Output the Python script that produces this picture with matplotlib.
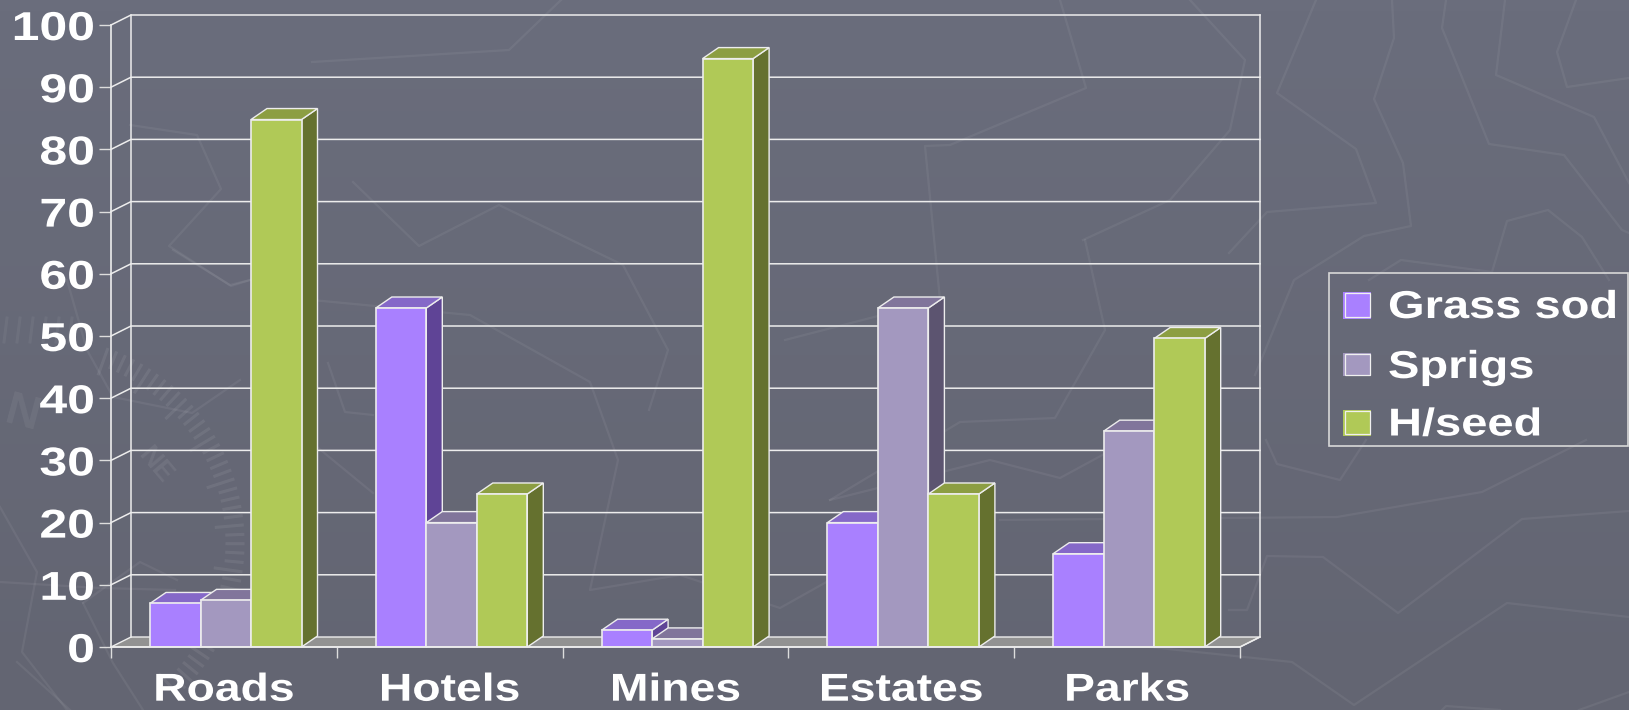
import numpy as np
import matplotlib
matplotlib.use('Agg')
import matplotlib.pyplot as plt
import matplotlib.patheffects as pe
from matplotlib.patches import Polygon, Rectangle
from matplotlib.transforms import Affine2D

# data
categories = ['Roads', 'Hotels', 'Mines', 'Estates', 'Parks']
series_names = ['Grass sod', 'Sprigs', 'H/seed']
grass_sod = [7, 54.5, 2.7, 20, 15]
sprigs = [7.5, 20, 1.3, 54.5, 34.7]
h_seed = [84.8, 24.6, 94.6, 24.6, 49.6]
yticks = list(range(0, 101, 10))

# front, top and side colours per series
front_cols = ['#A980FF', '#A398BF', '#B0C957']
top_cols = ['#8568C8', '#81759B', '#8C9E42']
side_cols = ['#5F4496', '#5C5470', '#65712F']

W, H = 1629, 710
plt.rcParams['font.family'] = ['Liberation Sans', 'DejaVu Sans']
plt.rcParams['font.weight'] = 'bold'
LINE = '#EDEDED'


class WideText(pe.AbstractPathEffect):
    # widen the glyphs around the anchor of the text
    def __init__(self, text, sx=1.19):
        super().__init__()
        self.text = text
        self.sx = sx

    def draw_path(self, renderer, gc, tpath, affine, rgbFace=None):
        px = self.text.get_transform().transform(self.text.get_position())[0]
        wide = affine + Affine2D().translate(-px, 0).scale(self.sx, 1).translate(px, 0)
        renderer.draw_path(gc, tpath, wide, rgbFace)


def widen(t, sx=1.19):
    t.set_path_effects([WideText(t, sx)])
    return t


fig = plt.figure(figsize=(W / 100, H / 100), dpi=100)

# background with faint line work, in pixel coordinates
bg = fig.add_axes([0, 0, 1, 1], zorder=0)
bg_cmap = matplotlib.colors.LinearSegmentedColormap.from_list('b', ['#6A6D7C', '#636572'])
bg.imshow(np.linspace(0, 1, 64).reshape(-1, 1), cmap=bg_cmap, extent=[0, W, H, 0], aspect='auto')
faint = [
    [(312, 62), (509, 50), (561, 0)],
    [(130, 125), (197, 135), (221, 189), (169, 246), (231, 286), (250, 280)],
    [(353, 182), (419, 246), (499, 205), (623, 265), (668, 350), (649, 410)],
    [(312, 300), (470, 315), (590, 382), (618, 460), (590, 590), (680, 575), (780, 608), (830, 580)],
    [(1060, 0), (1086, 88), (950, 145), (925, 146), (940, 300), (785, 340)],
    [(1083, 240), (1170, 200), (1230, 130), (1245, 60), (1190, 0)],
    [(830, 500), (960, 422), (1055, 418), (1105, 330), (1085, 240)],
    [(830, 500), (990, 460), (1060, 478), (1130, 440)],
    [(1000, 520), (1337, 517), (1482, 492), (1586, 440)],
    # right of the plot
    [(1316, 0), (1277, 93), (1356, 149), (1376, 203), (1267, 212), (1229, 253)],
    [(1392, 0), (1394, 38), (1374, 99), (1403, 163), (1411, 226), (1364, 236), (1294, 280), (1255, 375)],
    [(1446, 0), (1442, 28), (1489, 144), (1564, 155), (1622, 230), (1629, 233)],
    [(1505, 0), (1496, 75), (1594, 117), (1629, 183)],
    [(1576, 0), (1557, 52), (1567, 87), (1629, 78)],
    [(1369, 280), (1401, 260), (1492, 272), (1507, 221), (1548, 210), (1582, 237), (1609, 280)],
    [(1266, 440), (1277, 464), (1340, 480), (1366, 440)],
    [(1229, 610), (1247, 610), (1267, 556), (1323, 557), (1398, 613), (1522, 519), (1629, 511)],
    [(1130, 645), (1292, 662), (1354, 705), (1507, 603), (1629, 617)],
    [(1442, 710), (1446, 706), (1500, 710)],
    [(1579, 710), (1629, 692)],
    # left of the plot
    [(0, 507), (37, 572), (22, 652), (67, 710)],
    [(0, 582), (100, 588), (175, 590)],
    [(83, 603), (140, 562), (177, 580)],
    [(83, 603), (113, 663), (143, 710)],
    [(17, 662), (70, 710)],
    [(67, 280), (87, 350), (113, 397), (192, 413), (240, 380)],
    [(317, 447), (373, 493)],
    [(328, 363), (345, 412), (373, 415)],
    [(173, 250), (230, 285), (250, 280)],
]
for pts in faint:
    bg.plot(*zip(*pts), color='white', alpha=0.06, lw=1.6)

# compass scale and letters behind the left of the plot
for k, ang in enumerate(np.deg2rad(np.arange(-70, 48, 2.6))):
    r0 = 190 if k % 5 else 180
    bg.plot([37 + r0 * np.cos(ang), 37 + 206 * np.cos(ang)], [543 + r0 * np.sin(ang), 543 + 206 * np.sin(ang)],
            color='white', alpha=0.07, lw=2.2)
for x in np.arange(4, 70, 13):
    bg.plot([x, x + 3], [342, 318], color='white', alpha=0.05, lw=2.2)
bg.text(22, 415, 'N', rotation=-15, fontsize=34, color='white', alpha=0.06, ha='center', va='center')
bg.text(155, 465, 'NE', rotation=-50, fontsize=20, color='white', alpha=0.07, ha='center', va='center')
bg.set_xlim(0, W)
bg.set_ylim(H, 0)
bg.axis('off')

# front plane of the chart
X0, X1, Y0, Y1 = 111, 1240, 647, 25
ax = fig.add_axes([X0 / W, (H - Y0) / H, (X1 - X0) / W, (Y0 - Y1) / H], zorder=1)
ax.patch.set_alpha(0)
ax.set_xlim(0, len(categories))
ax.set_ylim(0, 100)

xpx = (X1 - X0) / len(categories)
ypx = (Y0 - Y1) / 100
wall_dx, wall_dy = 20 / xpx, 10 / ypx
bar_dx, bar_dy = 16 / xpx, 11 / ypx
bar_w = 50.5 / xpx
bar_start = 39 / xpx
nc = len(categories)

# floor, back wall and grid
ax.add_patch(Polygon([(0, 0), (wall_dx, wall_dy), (nc + wall_dx, wall_dy), (nc, 0)], fc='#929292',
                     ec=LINE, lw=1, clip_on=False, zorder=1))
for v in yticks[1:]:
    ax.plot([0, wall_dx, nc + wall_dx], [v, v + wall_dy, v + wall_dy], color=LINE, lw=1.1, clip_on=False, zorder=1)
ax.plot([wall_dx, wall_dx], [wall_dy, 100 + wall_dy], color=LINE, lw=1.1, clip_on=False, zorder=1)
ax.plot([nc + wall_dx, nc + wall_dx], [wall_dy, 100 + wall_dy], color=LINE, lw=1.1, clip_on=False, zorder=1)
ax.plot([nc, nc + wall_dx], [0, wall_dy], color=LINE, lw=1.1, clip_on=False, zorder=1)

# bars, left to right so each one covers the side of the previous one
values = [grass_sod, sprigs, h_seed]
z = 3
for i in range(nc):
    for s, vals in enumerate(values):
        x = i + bar_start + s * bar_w
        v = vals[i]
        ax.add_patch(Polygon([(x + bar_w, 0), (x + bar_w + bar_dx, bar_dy), (x + bar_w + bar_dx, v + bar_dy), (x + bar_w, v)],
                             fc=side_cols[s], ec=LINE, lw=1, zorder=z, clip_on=False))
        ax.add_patch(Polygon([(x, v), (x + bar_dx, v + bar_dy), (x + bar_w + bar_dx, v + bar_dy), (x + bar_w, v)],
                             fc=top_cols[s], ec=LINE, lw=1, zorder=z, clip_on=False))
        ax.bar(x, v, width=bar_w, align='edge', color=front_cols[s], edgecolor=LINE, lw=1.2, zorder=z + 0.5)
        z += 1

# axes, ticks and labels
for name in ['top', 'right']:
    ax.spines[name].set_visible(False)
for name in ['left', 'bottom']:
    ax.spines[name].set_color(LINE)
    ax.spines[name].set_linewidth(1.2)
    ax.spines[name].set_zorder(50)
ax.set_yticks(yticks)
ax.set_yticklabels([str(v) for v in yticks])
ax.set_xticks(range(nc + 1))
ax.set_xticklabels([])
ax.set_xticks(np.arange(nc) + 0.5, minor=True)
ax.set_xticklabels(categories, minor=True)
ax.tick_params(axis='y', length=8.6, width=1, color='#DDDDDD', pad=3, labelsize=29, labelcolor='white')
ax.tick_params(axis='x', which='major', length=8, width=1, color='#DDDDDD')
ax.tick_params(axis='x', which='minor', length=0, pad=18.5, labelsize=28, labelcolor='white')
for t in ax.get_yticklabels():
    widen(t, 1.24)
for t in ax.get_xticklabels(minor=True):
    widen(t)


def fx(x):
    return x / W


def fy(y):
    return 1 - y / H


# legend box
fig.add_artist(Rectangle((fx(1329), fy(446)), 299 / W, 173 / H, transform=fig.transFigure, fc='none', ec='#D8D8D8', lw=1.2))
swatch_y = [(291.6, 318.6), (352.7, 376.3), (409.7, 435.7)]
baselines = [318, 378, 435.5]
for s, name in enumerate(series_names):
    top, bot = swatch_y[s]
    fig.add_artist(Rectangle((fx(1343), fy(bot)), 28 / W, (bot - top) / H, transform=fig.transFigure, fc=front_cols[s], ec='none'))
    fig.add_artist(Rectangle((fx(1344.5), fy(bot - 1.5)), 25 / W, (bot - top - 3) / H, transform=fig.transFigure, fc='none', ec='#F0F0F0', lw=0.9))
    widen(fig.text(fx(1388), fy(baselines[s]), name, color='white', fontsize=28, ha='left', va='baseline'), 1.21)

fig.savefig('out.png', dpi=100)
